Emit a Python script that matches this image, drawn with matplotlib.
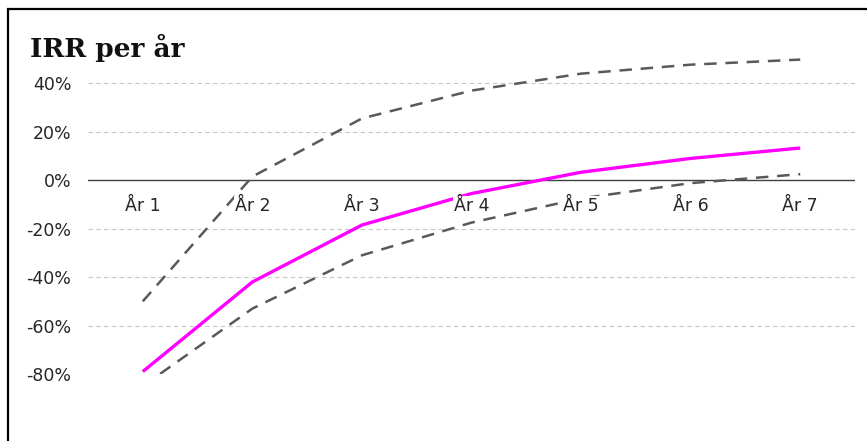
import matplotlib
matplotlib.use("Agg")
import matplotlib.pyplot as plt
from matplotlib.patches import Rectangle

years = ["År 1", "År 2", "År 3", "År 4", "År 5", "År 6", "År 7"]
irr_mid = [-79, -42, -18.5, -5.5, 3.3, 9.0, 13.3]
irr_high = [-50, 1.5, 25.5, 37, 44, 47.7, 49.8]
irr_low = [-85, -53, -31, -17.5, -7.5, -1.2, 2.5]
yticks = [-80, -60, -40, -20, 0, 20, 40]

fig = plt.figure(figsize=(8.67, 4.41), dpi=100)
ax = fig.add_axes([88 / 867, 1 - 374 / 441, (855 - 88) / 867, (374 - 47) / 441])

x = list(range(len(years)))
ax.plot(x, irr_high, color="#595959", lw=1.8, ls=(0, (5, 3.5)), zorder=3)
ax.plot(x, irr_low, color="#595959", lw=1.8, ls=(0, (5, 3.5)), zorder=3)
ax.plot(x, irr_mid, color="#ff00ff", lw=2.4, zorder=4, solid_capstyle="butt")

ax.set_xlim(-0.5, len(years) - 0.5)
ax.set_ylim(-80, 55)
ax.set_yticks(yticks)
ax.set_yticklabels([f"{v}%" for v in yticks])
for v in yticks:
    if v != 0:
        ax.axhline(v, color="#c8c8c8", lw=0.8, ls=(0, (4, 3)), zorder=1)
ax.axhline(0, color="#404040", lw=1.0, zorder=2)

ax.set_xticks([])
ax.tick_params(axis="y", length=0, pad=12, labelsize=12.5, labelcolor="#262626")
for s in ax.spines.values():
    s.set_visible(False)

for i, lab in enumerate(years):
    ax.text(i, -10.5, lab, ha="center", va="center", fontsize=12.5, color="#262626",
            zorder=6, bbox=dict(facecolor="white", edgecolor="none", pad=0.6))

fig.text(30 / 867, 1 - 48 / 441, "IRR per år", family="DejaVu Serif", weight="bold",
         fontsize=19, va="center", ha="left", color="#111111")

fig.add_artist(Rectangle((8 / 867, -0.1), 1.2, 1 - 8.5 / 441 + 0.1, transform=fig.transFigure,
                         fill=False, edgecolor="black", lw=1.6))

fig.savefig("out.png", dpi=100)
